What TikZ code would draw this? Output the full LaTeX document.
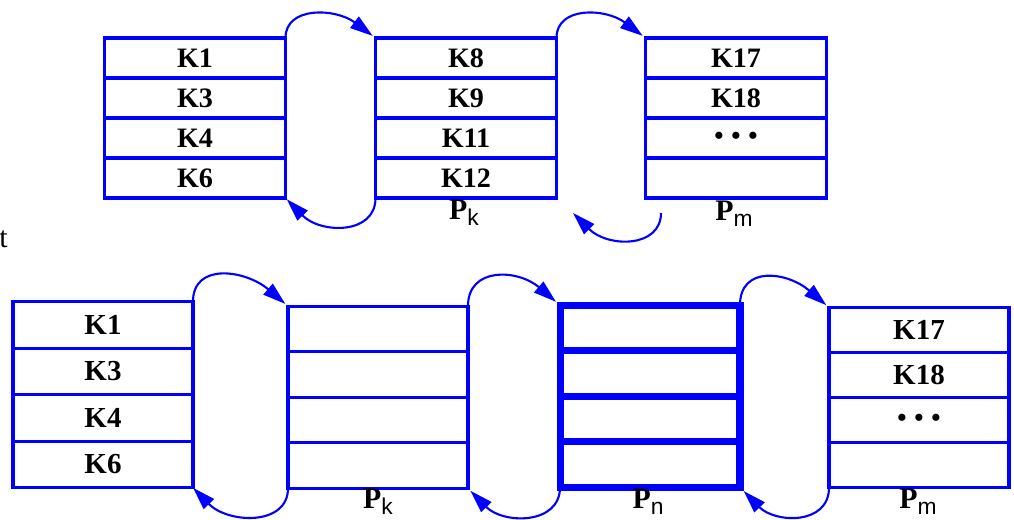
\documentclass[tikz,border=0pt]{standalone}
\usepackage{fontspec}
\setmainfont{Liberation Serif}
\newfontfamily\subsans{Liberation Sans}
\usetikzlibrary{positioning,arrows.meta}
\tikzset{
	keyrow/.style={draw=blue, line width=1.8pt, minimum width=3.62cm, minimum height=0.8cm, inner sep=0pt, outer sep=0pt, font=\bfseries\fontsize{16}{18}\selectfont},
	botrow/.style={keyrow, minimum width=3.6cm, minimum height=0.91cm, font=\bfseries\fontsize{16.5}{18}\selectfont},
	hotrow/.style={botrow, line width=4pt},
	pagename/.style={inner sep=0pt, font=\bfseries\fontsize{17}{19}\selectfont},
	link/.style={draw=blue, line width=1.2pt, -{Triangle[length=13pt,width=8pt]}}
}
\newcommand{\pagesub}[2]{#1\raisebox{-3.5pt}{\mdseries\subsans\fontsize{13}{14}\selectfont #2}}
\newcommand{\dotrow}{\fontsize{15}{16}\selectfont\textbullet\hspace{4.4pt}\textbullet\hspace{4.4pt}\textbullet}
\begin{document}
\begin{tikzpicture}[x=0.02cm, y=-0.02cm]
			\useasboundingbox (0,0) rectangle (1014,520);
			% top row
			\node(TopLeft1)		[keyrow] at (195,58)			{K1};
			\node(TopLeft2)		[keyrow, below=0pt of TopLeft1]	{K3};
			\node(TopLeft3)		[keyrow, below=0pt of TopLeft2]	{K4};
			\node(TopLeft4)		[keyrow, below=0pt of TopLeft3]	{K6};
			\node(TopPk1)		[keyrow] at (466,58)			{K8};
			\node(TopPk2)		[keyrow, below=0pt of TopPk1]	{K9};
			\node(TopPk3)		[keyrow, below=0pt of TopPk2]	{K11};
			\node(TopPk4)		[keyrow, below=0pt of TopPk3]	{K12};
			\node(TopPm1)		[keyrow] at (736,58)			{K17};
			\node(TopPm2)		[keyrow, below=0pt of TopPm1]	{K18};
			\node(TopPm3)		[keyrow, below=0pt of TopPm2]	{\dotrow};
			\node(TopPm4)		[keyrow, below=0pt of TopPm3]	{};
			\node(TopPkName)	[pagename] at (464,213)			{\pagesub{P}{k}};
			\node(TopPmName)	[pagename] at (734,214)			{\pagesub{P}{m}};
			\node(Stray)		[anchor=east, inner sep=0pt, font=\fontsize{17}{19}\selectfont] at (8,239) {t};
			\coordinate(TopBackStart) at (661,213);
			\coordinate(TopBackEnd) at (573,213);
			\draw[link, shorten >=2pt] (TopLeft1.north east) .. controls +(0,-32) and +(-40,-30) .. (TopPk1.north west);
			\draw[link, shorten >=1pt] (TopPk4.south west) .. controls +(0,37) and +(35,36) .. (TopLeft4.south east);
			\draw[link, shorten >=2pt] (TopPk1.north east) .. controls +(0,-32) and +(-40,-30) .. (TopPm1.north west);
			\draw[link] (TopBackStart) .. controls +(0,35) and +(35,35) .. (TopBackEnd);
			% bottom row
			\node(BotLeft1)		[botrow, minimum height=0.93cm] at (103,325)	{K1};
			\node(BotLeft2)		[botrow, minimum height=0.93cm, below=0pt of BotLeft1]	{K3};
			\node(BotLeft3)		[botrow, minimum height=0.93cm, below=0pt of BotLeft2]	{K4};
			\node(BotLeft4)		[botrow, minimum height=0.93cm, below=0pt of BotLeft3]	{K6};
			\node(BotPk1)		[botrow] at (378,329)			{};
			\node(BotPk2)		[botrow, below=0pt of BotPk1]	{};
			\node(BotPk3)		[botrow, below=0pt of BotPk2]	{};
			\node(BotPk4)		[botrow, below=0pt of BotPk3]	{};
			\node(BotPn1)		[hotrow] at (650,328)			{};
			\node(BotPn2)		[hotrow, below=0pt of BotPn1]	{};
			\node(BotPn3)		[hotrow, below=0pt of BotPn2]	{};
			\node(BotPn4)		[hotrow, below=0pt of BotPn3]	{};
			\node(BotPm1)		[botrow, minimum height=0.9cm] at (919,330)	{K17};
			\node(BotPm2)		[botrow, minimum height=0.9cm, below=0pt of BotPm1]	{K18};
			\node(BotPm3)		[botrow, minimum height=0.9cm, below=0pt of BotPm2]	{\dotrow};
			\node(BotPm4)		[botrow, minimum height=0.9cm, below=0pt of BotPm3]	{};
			\node(BotPkName)	[pagename] at (378,502)			{\pagesub{P}{k}};
			\node(BotPnName)	[pagename] at (648,502)			{\pagesub{P}{n}};
			\node(BotPmName)	[pagename] at (918,502)			{\pagesub{P}{m}};
			\draw[link, shorten >=2pt] (BotLeft1.north east) .. controls +(0,-40) and +(-42,-36) .. (BotPk1.north west);
			\draw[link] (BotPk4.south west) .. controls +(0,38) and +(35,36) .. (BotLeft4.south east);
			\draw[link, shorten >=3pt] (BotPk1.north east) .. controls +(0,-40) and +(-42,-36) .. (BotPn1.north west);
			\draw[link, shorten >=2pt] (BotPn4.south west) .. controls +(0,38) and +(35,36) .. (BotPk4.south east);
			\draw[link, shorten >=2pt] (BotPn1.north east) .. controls +(0,-40) and +(-42,-36) .. (BotPm1.north west);
			\draw[link, shorten >=3pt] (BotPm4.south west) .. controls +(0,38) and +(35,36) .. (BotPn4.south east);
\end{tikzpicture}
\end{document}
